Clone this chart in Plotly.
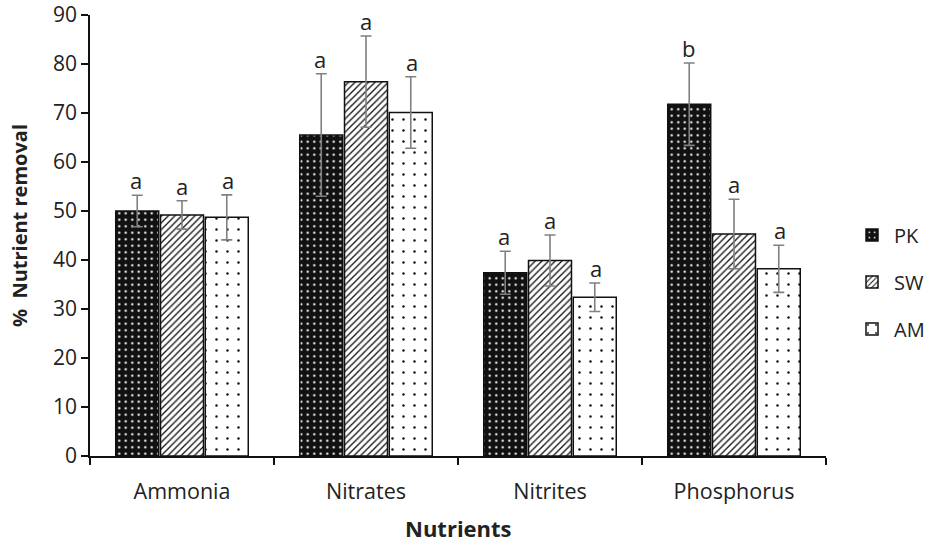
import plotly.graph_objects as go

categories = ["Ammonia", "Nitrates", "Nitrites", "Phosphorus"]
series_names = ["PK", "SW", "AM"]
pk_values = [50.0, 65.5, 37.4, 71.8]
sw_values = [49.2, 76.4, 39.9, 45.3]
am_values = [48.7, 70.1, 32.4, 38.2]
pk_errors = [3.2, 12.5, 4.4, 8.4]
sw_errors = [2.9, 9.3, 5.2, 7.1]
am_errors = [4.6, 7.3, 2.9, 4.8]
pk_letters = ["a", "a", "a", "b"]
sw_letters = ["a", "a", "a", "a"]
am_letters = ["a", "a", "a", "a"]

FONT = "Open Sans"
TXT = "#222222"

values = [pk_values, sw_values, am_values]
errors = [pk_errors, sw_errors, am_errors]
letters = [pk_letters, sw_letters, am_letters]
patterns = [
    dict(shape=".", bgcolor="#111111", fgcolor="white", size=6.5, solidity=0.1, fillmode="replace"),
    dict(shape="/", bgcolor="white", fgcolor="#111111", size=4.7, solidity=0.28, fillmode="replace"),
    dict(shape=".", bgcolor="white", fgcolor="#111111", size=11, solidity=0.04, fillmode="replace"),
]

fig = go.Figure()
for i, name in enumerate(series_names):
    fig.add_trace(go.Bar(
        x=categories, y=values[i], name=name,
        legendgroup=name,
        marker=dict(color="white", line=dict(color="#111111", width=1.5), pattern=patterns[i]),
        error_y=dict(type="data", array=errors[i], color="#808080", thickness=1.6, width=5.5),
    ))

bar_px = 46
for i in range(3):
    for j, cat in enumerate(categories):
        fig.add_annotation(
            x=cat, y=values[i][j] + errors[i][j], text=letters[i][j],
            showarrow=False, yanchor="bottom", xanchor="center",
            xshift=(i - 1) * bar_px, yshift=-2,
            font=dict(family=FONT, size=22, color=TXT),
        )

# axis titles as annotations
fig.add_annotation(
    xref="paper", yref="paper", x=0, y=0.5215, xshift=-71,
    text="<b>%  Nutrient removal</b>", textangle=-90, showarrow=False,
    xanchor="center", yanchor="middle",
    font=dict(family=FONT, size=20, color=TXT),
)
fig.add_annotation(
    xref="paper", yref="paper", x=0.5, y=0, yshift=-72,
    text="<b>Nutrients</b>", showarrow=False,
    xanchor="center", yanchor="middle",
    font=dict(family=FONT, size=22, color=TXT),
)

fig.update_layout(
    width=931, height=545,
    margin=dict(l=90, r=105, t=15, b=89),
    paper_bgcolor="white", plot_bgcolor="white",
    barmode="group", bargap=0.27, bargroupgap=0.04,
    font=dict(family=FONT, size=21, color=TXT),
    legend=dict(xref="container", yref="container", x=0.913, xanchor="left",
                y=0.4826, yanchor="middle",
                font=dict(family=FONT, size=20, color=TXT),
                tracegroupgap=18, traceorder="grouped", itemwidth=34),
    xaxis=dict(
        showline=True, linecolor="#111111", linewidth=1.5, automargin=False,
        ticks="outside", tickson="boundaries", ticklen=7, tickcolor="#111111", tickwidth=1.5,
        ticklabelstandoff=15, ticklabeloverflow="allow",
        showgrid=False, tickfont=dict(family=FONT, size=21.5, color=TXT),
    ),
    yaxis=dict(
        range=[0, 90], dtick=10, showline=True, linecolor="#111111", linewidth=1.5, automargin=False,
        ticks="outside", ticklen=7, tickcolor="#111111", tickwidth=1.5, ticklabeloverflow="allow",
        showgrid=False, zeroline=False, tickfont=dict(family=FONT, size=21, color=TXT),
    ),
)

fig.write_html("out.html", config={"displayModeBar": False},
               post_script="document.body.style.margin='0';")
